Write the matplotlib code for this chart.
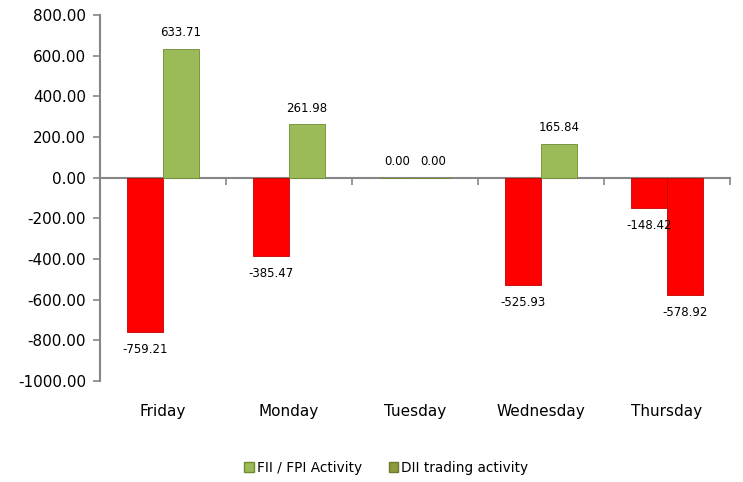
import matplotlib
matplotlib.use("Agg")
import matplotlib.pyplot as plt
import numpy as np
from matplotlib.patches import Patch

days = ["Friday", "Monday", "Tuesday", "Wednesday", "Thursday"]
fii = [-759.21, -385.47, 0.00, -525.93, -148.42]
dii = [633.71, 261.98, 0.00, 165.84, -578.92]
series_names = ["FII / FPI Activity", "DII trading activity"]
yticks = [800, 600, 400, 200, 0, -200, -400, -600, -800, -1000]

POS = "#9BBB59"
NEG = "#FF0000"
AXC = "#868686"

fig = plt.figure(figsize=(7.43, 4.82), dpi=100)
ax = fig.add_axes([100/743, 1-381/482, 630/743, (381-15)/482])

x = np.arange(len(days)) + 0.5
w = 0.286
for vals, off in ((fii, -w/2), (dii, w/2)):
    cols = [NEG if v < 0 else POS for v in vals]
    edges = ["#C00000" if v < 0 else "#6E8B2E" for v in vals]
    ax.bar(x + off, vals, width=w, color=cols, edgecolor=edges, linewidth=0.6, zorder=2)
    for xi, v in zip(x + off, vals):
        if v < 0:
            ax.annotate(f"{v:.2f}", (xi, v), xytext=(0, -8), textcoords="offset points",
                        ha="center", va="top", fontsize=8.5)
        else:
            ax.annotate(f"{v:.2f}", (xi, v), xytext=(0, 7), textcoords="offset points",
                        ha="center", va="bottom", fontsize=8.5)

ax.set_xlim(0, len(days))
ax.set_ylim(-1000, 800)
ax.set_yticks(yticks)
ax.set_yticklabels([f"{t:.2f}" for t in yticks], fontsize=11)
ax.set_xticks(np.arange(len(days) + 1))
ax.set_xticklabels([])
ax.tick_params(axis="y", direction="out", length=5, color=AXC, width=1.2, pad=5)
ax.tick_params(axis="x", direction="out", length=5, color=AXC, width=1.2)

for s in ("top", "right"):
    ax.spines[s].set_visible(False)
ax.spines["left"].set_color(AXC)
ax.spines["left"].set_linewidth(1.5)
ax.spines["bottom"].set_position(("data", 0))
ax.spines["bottom"].set_color(AXC)
ax.spines["bottom"].set_linewidth(1.5)
ax.spines["bottom"].set_zorder(1)

trans = matplotlib.transforms.blended_transform_factory(ax.transData, ax.transAxes)
for xi, d in zip(x, days):
    ax.text(xi, -0.082, d, transform=trans, ha="center", va="center", fontsize=11)

handles = [Patch(facecolor=POS, edgecolor="#6E8B2E", label=series_names[0]),
           Patch(facecolor="#8E9A3C", edgecolor="#6E7A2A", label=series_names[1])]
fig.legend(handles=handles, loc="center", bbox_to_anchor=(0.52, 1-468/482), ncol=2,
           frameon=False, fontsize=9.8, handlelength=0.7, handleheight=0.7,
           handletextpad=0.2, columnspacing=2.0)

fig.savefig("out.png", dpi=100)
